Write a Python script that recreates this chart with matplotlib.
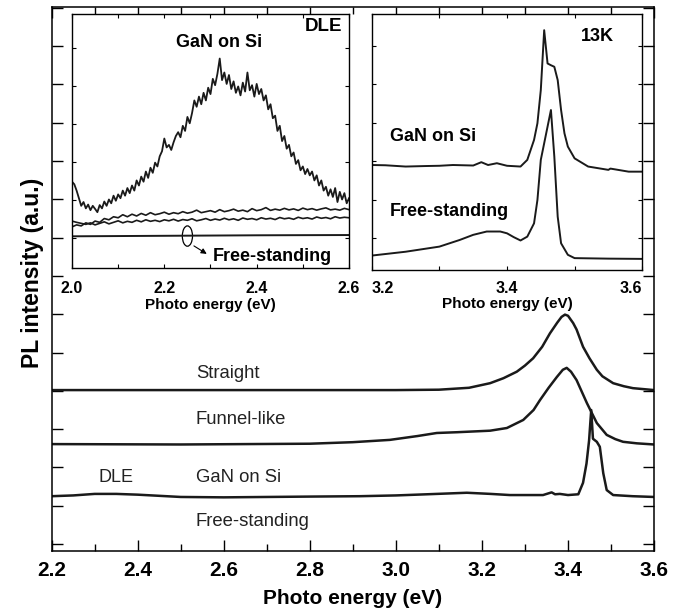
import numpy as np
import matplotlib.pyplot as plt
from matplotlib.patches import Ellipse
from matplotlib.ticker import MultipleLocator

plt.rcParams['font.family'] = ['Liberation Sans', 'DejaVu Sans']

# ---- main panel: room-temperature PL, offset traces ----
straight_e = [2.20, 2.50, 2.80, 2.87, 3.00, 3.10, 3.17, 3.219, 3.25, 3.281, 3.30, 3.319,
              3.34, 3.358, 3.375, 3.385, 3.393, 3.40, 3.412, 3.42, 3.435, 3.45, 3.467,
              3.48, 3.505, 3.53, 3.551, 3.60]
straight_i = [4.02, 4.02, 4.02, 4.02, 4.02, 4.03, 4.08, 4.20, 4.33, 4.50, 4.66, 4.85,
              5.15, 5.50, 5.78, 5.93, 5.99, 5.96, 5.77, 5.60, 5.15, 4.85, 4.55,
              4.38, 4.20, 4.12, 4.07, 4.02]

funnel_e = [2.20, 2.50, 2.80, 2.90, 2.986, 3.05, 3.095, 3.142, 3.219, 3.258, 3.296,
            3.32, 3.335, 3.355, 3.374, 3.388, 3.397, 3.407, 3.42, 3.444, 3.467, 3.49,
            3.51, 3.528, 3.56, 3.60]
funnel_i = [2.61, 2.60, 2.62, 2.66, 2.72, 2.82, 2.90, 2.92, 2.96, 3.03, 3.24,
            3.50, 3.76, 4.08, 4.36, 4.55, 4.60, 4.50, 4.28, 3.68, 3.16, 2.85,
            2.74, 2.67, 2.63, 2.60]

gansi_e = [2.20, 2.25, 2.30, 2.35, 2.40, 2.45, 2.50, 2.60, 2.70, 2.80, 2.916, 3.00,
           3.072, 3.165, 3.22, 3.265, 3.342, 3.362, 3.37, 3.381, 3.40, 3.424, 3.435,
           3.443, 3.449, 3.454, 3.458, 3.467, 3.474, 3.482, 3.49, 3.505, 3.55, 3.60]
gansi_i = [1.25, 1.27, 1.31, 1.31, 1.29, 1.26, 1.23, 1.22, 1.23, 1.24, 1.25, 1.27,
           1.30, 1.34, 1.31, 1.28, 1.28, 1.35, 1.30, 1.31, 1.28, 1.30, 1.60,
           2.10, 2.70, 3.50, 2.75, 2.67, 2.54, 1.85, 1.41, 1.28, 1.25, 1.23]

main_labels = ["Straight", "Funnel-like", "GaN on Si", "Free-standing"]
main_label_y = [4.45, 3.26, 1.75, 0.60]

# ---- inset 1: deep-level emission (DLE) ----
dle_gansi = [3.40, 3.30, 3.05, 2.75, 2.45, 2.60, 2.35, 2.50, 2.28, 2.45,
             2.33, 2.20, 2.48, 2.35, 2.62, 2.45, 2.70, 2.55, 2.85, 2.65,
             2.90, 2.75, 3.05, 2.85, 3.15, 2.95, 3.25, 3.05, 3.45, 3.25,
             3.60, 3.40, 3.80, 3.55, 3.95, 3.75, 4.15, 4.00, 4.40, 4.60,
             5.10, 4.75, 4.85, 4.65, 4.95, 5.20, 5.35, 5.15, 5.60, 5.40,
             5.95, 5.70, 6.10, 6.60, 6.35, 6.75, 6.45, 6.90, 6.60, 7.10,
             6.85, 7.45, 7.20, 7.65, 8.25, 7.40, 7.70, 7.25, 7.60, 7.05,
             7.35, 6.90, 7.15, 6.80, 7.30, 6.95, 7.70, 7.00, 7.20, 6.75,
             7.25, 6.85, 7.05, 6.60, 6.80, 6.25, 6.45, 5.90, 6.00, 5.40,
             5.60, 5.00, 5.20, 4.70, 4.85, 4.40, 4.55, 4.10, 4.25, 3.85,
             4.00, 3.70, 3.90, 3.65, 3.80, 3.45, 3.65, 3.25, 3.45, 3.05,
             3.20, 2.85, 3.10, 2.80, 3.15, 2.60, 3.00, 2.70, 2.95, 2.55,
             2.75]
dle_a = [1.62, 1.70, 1.66, 1.78, 1.72, 1.85, 1.80, 1.95, 1.90, 2.02,
         1.98, 2.10, 2.02, 2.12, 2.05, 2.15, 2.08, 2.18, 2.10, 2.14,
         2.20, 2.12, 2.18, 2.14, 2.22, 2.16, 2.20, 2.28, 2.18, 2.22,
         2.26, 2.20, 2.30, 2.22, 2.26, 2.32, 2.24, 2.28, 2.22, 2.34,
         2.26, 2.30, 2.38, 2.27, 2.32, 2.28, 2.35, 2.29, 2.33, 2.27,
         2.36, 2.30, 2.34, 2.28, 2.33, 2.37, 2.29, 2.32, 2.28, 2.35, 2.30]
dle_b = [1.85, 1.80, 1.76, 1.72, 1.78, 1.70, 1.76, 1.82, 1.74, 1.80,
         1.86, 1.78, 1.84, 1.80, 1.88, 1.82, 1.90, 1.84, 1.88, 1.83,
         1.90, 1.86, 1.92, 1.85, 1.91, 1.88, 1.94, 1.86, 1.90, 1.95,
         1.88, 1.93, 1.89, 1.96, 1.90, 1.94, 1.88, 1.97, 1.92, 1.95,
         1.90, 1.98, 1.93, 1.96, 1.91, 1.99, 1.94, 1.97, 1.92, 2.00,
         1.95, 1.98, 1.93, 2.01, 1.96, 1.99, 1.94, 2.02, 1.97, 2.00, 1.98]
dle_free_e = [2.0, 2.2, 2.4, 2.6]
dle_free_i = [1.25, 1.27, 1.29, 1.30]

# ---- inset 2: 13 K near-band-edge ----
k13_gansi_e = [3.20, 3.22, 3.25, 3.28, 3.30, 3.32, 3.35, 3.362, 3.372, 3.385, 3.40,
               3.42, 3.43, 3.44, 3.445, 3.45, 3.455, 3.46, 3.465, 3.47, 3.475,
               3.48, 3.485, 3.49, 3.50, 3.52, 3.55, 3.553, 3.58, 3.60]
k13_gansi_i = [4.10, 4.09, 4.04, 4.06, 4.07, 4.10, 4.08, 4.21, 4.10, 4.17, 4.07,
               4.04, 4.30, 5.08, 5.73, 7.03, 9.37, 8.07, 8.00, 7.94, 7.42,
               6.25, 5.34, 4.82, 4.36, 4.04, 3.91, 3.96, 3.84, 3.84]
k13_free_e = [3.20, 3.25, 3.30, 3.33, 3.35, 3.37, 3.39, 3.40, 3.41, 3.42, 3.43,
              3.44, 3.445, 3.45, 3.455, 3.46, 3.465, 3.47, 3.475, 3.48, 3.49,
              3.50, 3.55, 3.60]
k13_free_i = [0.56, 0.71, 0.91, 1.17, 1.37, 1.50, 1.50, 1.43, 1.28, 1.15, 1.30,
              1.82, 2.73, 4.30, 4.95, 5.60, 6.25, 4.43, 2.08, 1.04, 0.59,
              0.46, 0.44, 0.43]

fig = plt.figure(figsize=(6.81, 6.12), dpi=100)

ax = fig.add_axes([0.0759, 0.0997, 0.8845, 0.8889])
ax.plot(straight_e, straight_i, color='#1a1a1a', lw=1.8)
ax.plot(funnel_e, funnel_i, color='#1a1a1a', lw=1.8)
ax.plot(gansi_e, gansi_i, color='#1a1a1a', lw=1.8)
for lab, yy in zip(main_labels, main_label_y):
    ax.text(2.535, yy, lab, fontsize=13.3, va='center', ha='left', color='#222222')
ax.text(2.309, 1.75, "DLE", fontsize=13, va='center', ha='left', color='#222222')

ax.set_xlim(2.2, 3.6)
ax.set_ylim(-0.18, 14.02)
ax.xaxis.set_major_locator(MultipleLocator(0.2))
ax.xaxis.set_minor_locator(MultipleLocator(0.1))
ax.set_yticks(np.arange(0, 15, 1))
ax.tick_params(axis='both', which='both', direction='in', right=True, top=True)
ax.tick_params(axis='both', which='major', length=8, width=1.0, labelsize=15, pad=7)
ax.tick_params(axis='both', which='minor', length=5, width=1.0)
ax.tick_params(axis='y', labelleft=False)
ax.set_xticks([2.2, 2.4, 2.6, 2.8, 3.0, 3.2, 3.4, 3.6])
ax.set_xticklabels(['2.2', '2.4', '2.6', '2.8', '3.0', '3.2', '3.4', '3.6'],
                   fontweight='bold')
ax.set_xlabel("Photo energy (eV)", fontsize=15, fontweight='bold', labelpad=7)
for s in ax.spines.values():
    s.set_linewidth(1.1)
fig.text(33 / 681, 1 - 273 / 612, "PL intensity (a.u.)", rotation=90,
         ha='center', va='center', fontsize=16.5, fontweight='bold')

# inset 1
ax1 = fig.add_axes([0.1057, 0.562, 0.4068, 0.415])
x_dle = np.linspace(2.0, 2.6, len(dle_gansi))
x_ab = np.linspace(2.0, 2.6, len(dle_a))
ax1.plot(x_dle, dle_gansi, color='#1a1a1a', lw=1.3)
ax1.plot(x_ab, dle_a, color='#1a1a1a', lw=1.2)
ax1.plot(x_ab, dle_b, color='#1a1a1a', lw=1.2)
ax1.plot(dle_free_e, dle_free_i, color='#1a1a1a', lw=1.4)
ax1.add_patch(Ellipse((2.25, 1.26), 0.022, 0.8, fill=False, lw=0.9, color='k'))
ax1.annotate('', xy=(2.297, 0.5), xytext=(2.259, 0.93),
             arrowprops=dict(arrowstyle='-|>', lw=0.8, color='k', mutation_scale=8))
ax1.text(2.305, 0.47, "Free-standing", fontsize=13, fontweight='bold', va='center')
ax1.text(2.319, 8.9, "GaN on Si", fontsize=13, fontweight='bold', va='center', ha='center')
ax1.text(2.585, 9.5, "DLE", fontsize=13.5, fontweight='bold', va='center', ha='right')
ax1.set_xlim(2.0, 2.6)
ax1.set_ylim(0, 10)
ax1.set_xticks([2.0, 2.2, 2.4, 2.6])
ax1.set_xticklabels(['2.0', '2.2', '2.4', '2.6'], fontweight='bold')
ax1.xaxis.set_minor_locator(MultipleLocator(0.1))
ax1.set_yticks([1.18, 2.68, 4.18, 5.68, 7.18, 8.68])
ax1.tick_params(axis='both', which='both', direction='in', top=True, right=True,
                length=3, width=0.8, labelsize=11.5, pad=9)
ax1.tick_params(axis='y', labelleft=False)
ax1.set_xlabel("Photo energy (eV)", fontsize=11, fontweight='bold', labelpad=2)

# inset 2
ax2 = fig.add_axes([0.546, 0.559, 0.397, 0.418])
ax2.plot(k13_gansi_e, k13_gansi_i, color='#1a1a1a', lw=1.4)
ax2.plot(k13_free_e, k13_free_i, color='#1a1a1a', lw=1.4)
ax2.text(3.533, 9.14, "13K", fontsize=13, fontweight='bold', va='center', ha='center')
ax2.text(3.227, 5.2, "GaN on Si", fontsize=13, fontweight='bold', va='center')
ax2.text(3.227, 2.27, "Free-standing", fontsize=13, fontweight='bold', va='center')
ax2.set_xlim(3.2, 3.6)
ax2.set_ylim(0, 10)
ax2.set_xticks([3.2, 3.4, 3.6])
lbls = ax2.set_xticklabels(['3.2', '3.4', '3.6'], fontweight='bold')
lbls[0].set_ha('left')
lbls[-1].set_ha('right')
ax2.xaxis.set_minor_locator(MultipleLocator(0.1))
ax2.set_yticks([1.25, 2.75, 4.25, 5.75, 7.25, 8.75])
ax2.tick_params(axis='both', which='both', direction='in', top=True, right=True,
                length=3, width=0.8, labelsize=11.5, pad=8)
ax2.tick_params(axis='y', labelleft=False)
ax2.set_xlabel("Photo energy (eV)", fontsize=11, fontweight='bold', labelpad=1)

for a in (ax1, ax2):
    for s in a.spines.values():
        s.set_linewidth(1.0)

fig.savefig("out.png", dpi=100)
